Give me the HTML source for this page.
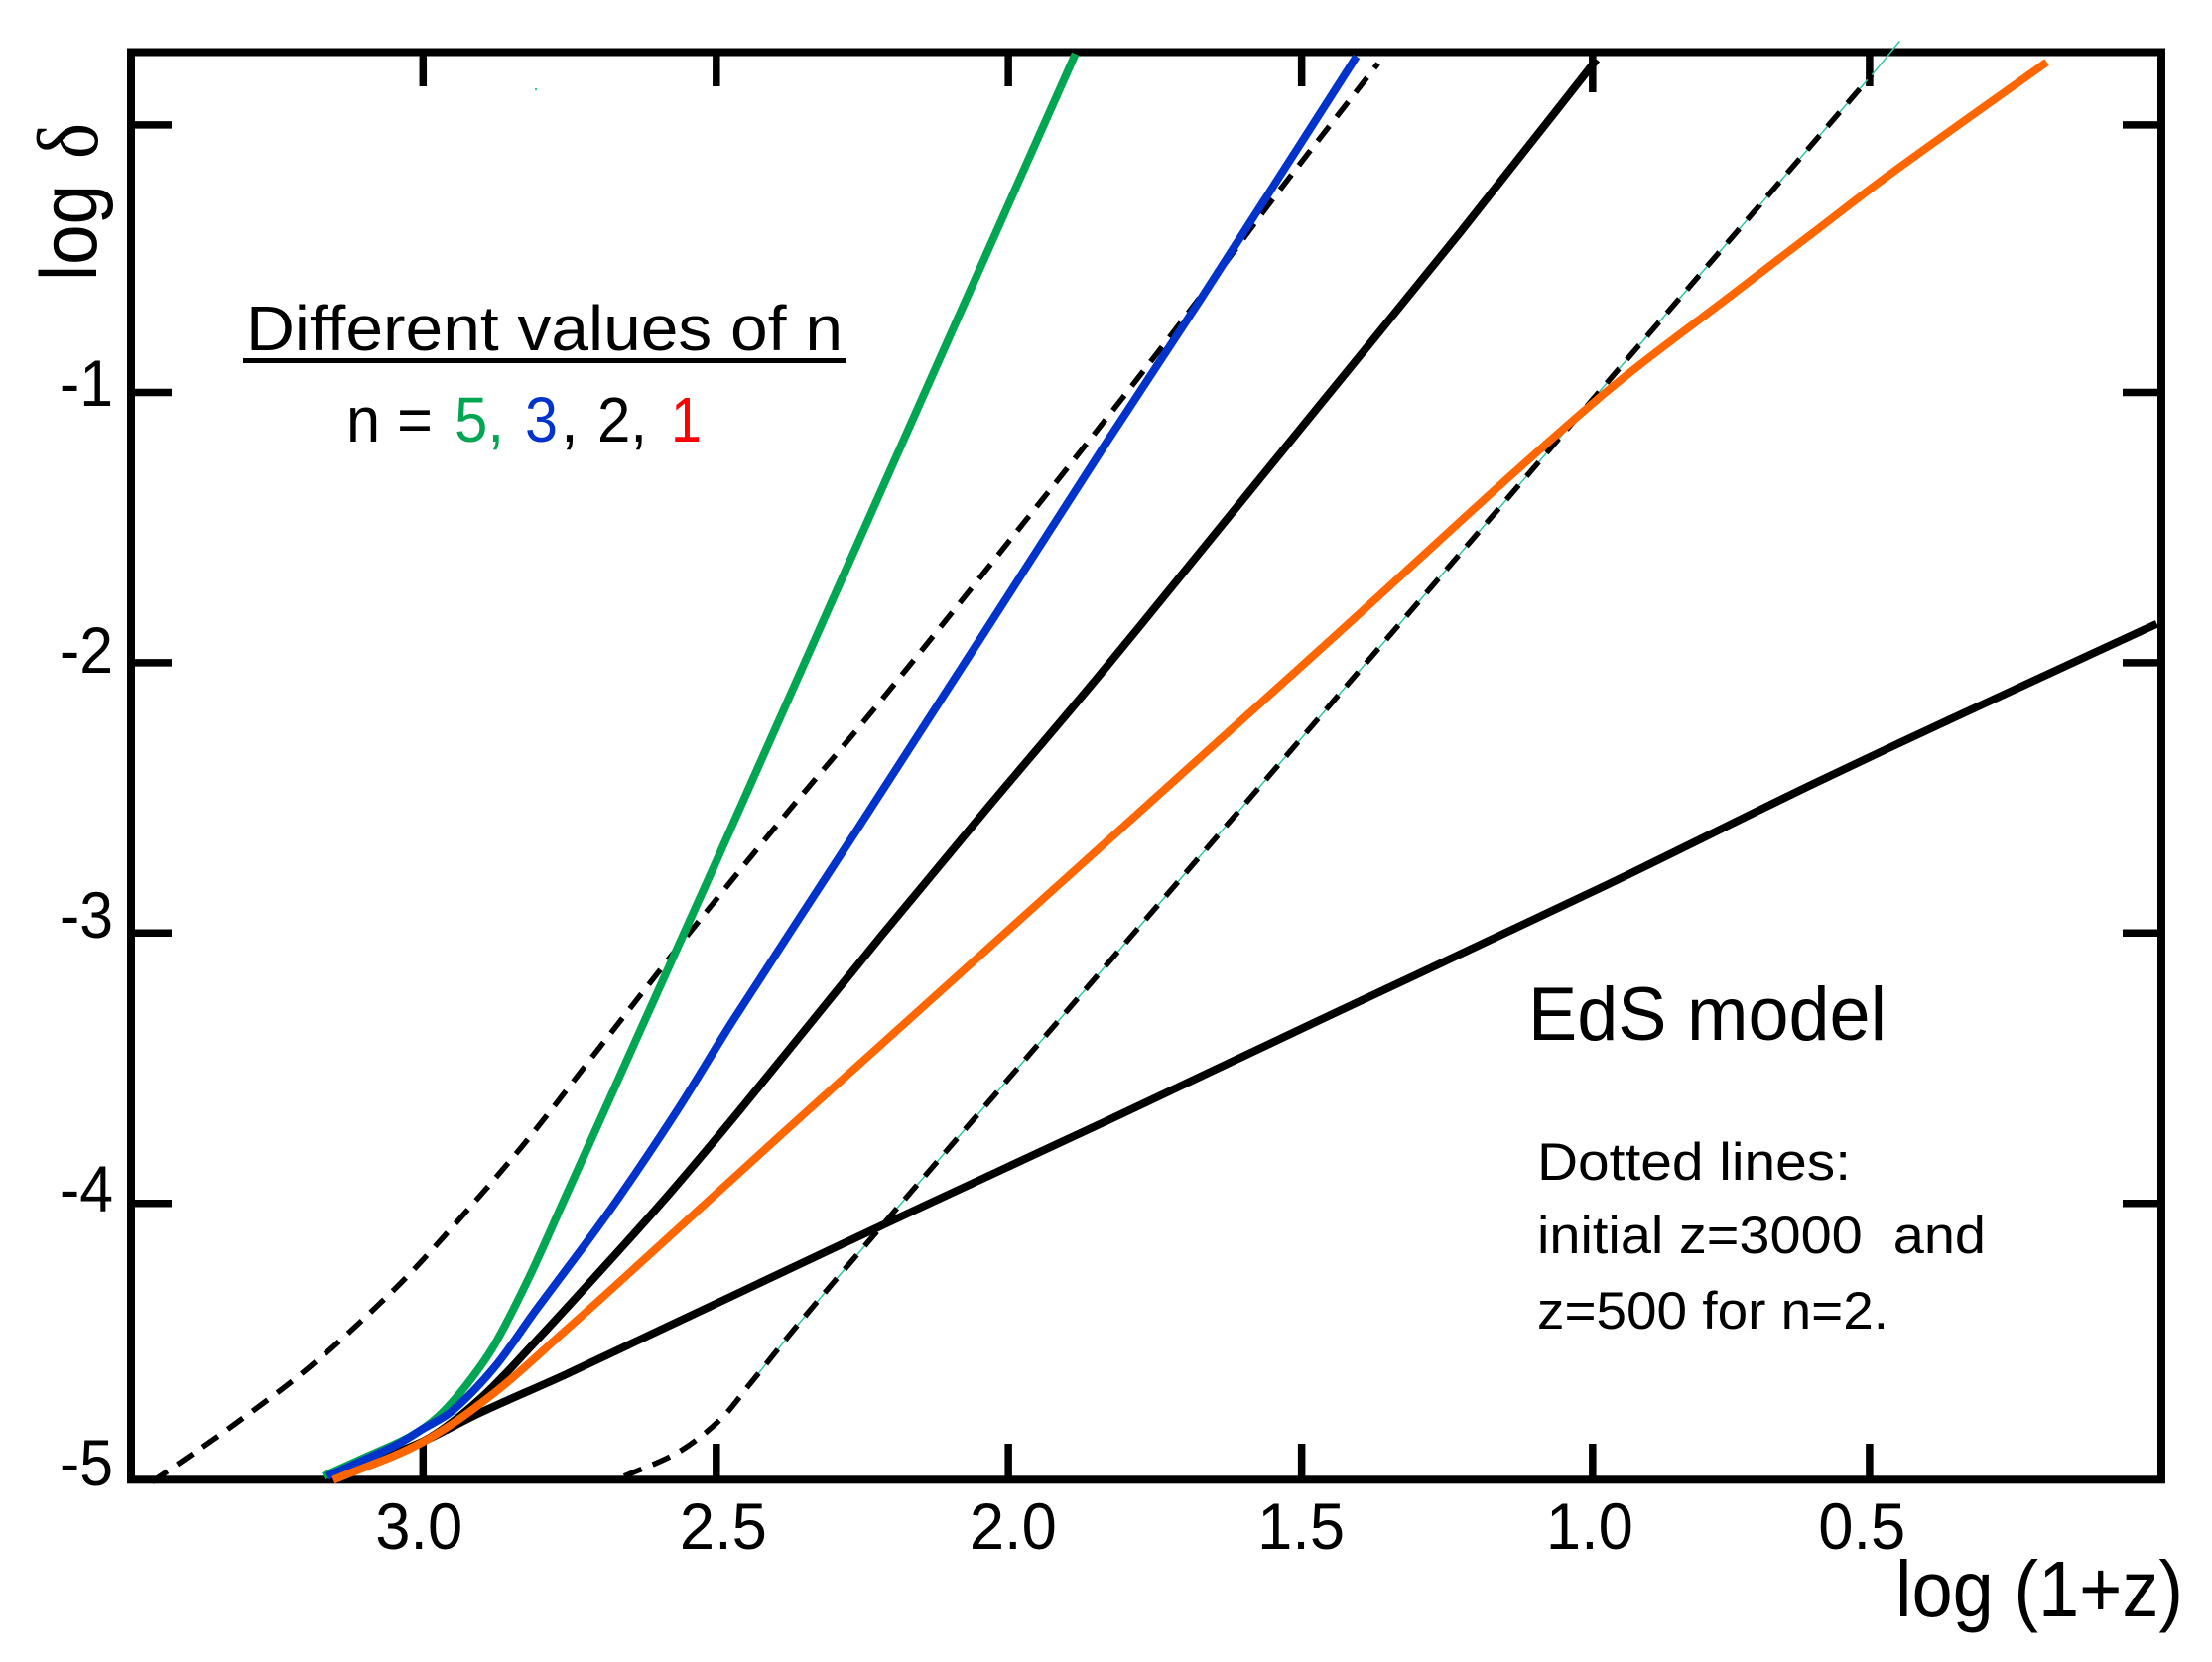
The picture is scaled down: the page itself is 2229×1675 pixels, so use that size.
<!DOCTYPE html>
<html lang="en">
<head>
<meta charset="utf-8">
<title>log delta versus log (1+z), EdS model</title>
<style>
html,body{margin:0;padding:0;background:#fff;}
svg{display:block;}
text{font-family:"Liberation Sans",sans-serif;fill:#000;}
</style>
</head>
<body>
<svg id="chart" xmlns="http://www.w3.org/2000/svg" width="2229" height="1675" viewBox="0 0 2229 1675">
  <rect x="0" y="0" width="2229" height="1675" fill="#fff"/>
  <rect x="132" y="52.5" width="2046" height="1438.8" fill="none" stroke="#000" stroke-width="8"/>
  <g id="ticks"></g>
  <g id="tick-labels"></g>
  <g id="series"></g>
  <rect x="539" y="89" width="2" height="2" fill="#2fc6a8"/>

  <text transform="translate(97,283) rotate(-90)" font-size="81" textLength="97" lengthAdjust="spacingAndGlyphs">log</text>
  <text transform="translate(98,160) rotate(-90)" font-size="88" textLength="36" lengthAdjust="spacingAndGlyphs" style="font-family:'Liberation Serif',serif">δ</text>
  <text x="1910" y="1629" font-size="80" textLength="290" lengthAdjust="spacingAndGlyphs">log (1+z)</text>

  <text x="248" y="353" font-size="64" textLength="601" lengthAdjust="spacingAndGlyphs">Different values of n</text>
  <rect x="245" y="361" width="607" height="5" fill="#000"/>
  <text x="349" y="445" font-size="64" textLength="87" lengthAdjust="spacingAndGlyphs">n =</text>
  <text x="458" y="445" font-size="64" textLength="50" lengthAdjust="spacingAndGlyphs" style="fill:#00a651">5,</text>
  <text x="529" y="445" font-size="64" textLength="33" lengthAdjust="spacingAndGlyphs" style="fill:#0033cc">3</text>
  <text x="565" y="445" font-size="64">,</text>
  <text x="602" y="445" font-size="64" textLength="50" lengthAdjust="spacingAndGlyphs">2,</text>
  <text x="676" y="445" font-size="64" textLength="31" lengthAdjust="spacingAndGlyphs" style="fill:#ff0000">1</text>

  <text x="1540" y="1048" font-size="76" textLength="361" lengthAdjust="spacingAndGlyphs">EdS model</text>
  <text x="1549" y="1189" font-size="53" textLength="316" lengthAdjust="spacingAndGlyphs">Dotted lines:</text>
  <text x="1549" y="1263" font-size="53" textLength="452" lengthAdjust="spacingAndGlyphs" xml:space="preserve">initial z=3000  and</text>
  <text x="1549" y="1339" font-size="53" textLength="354" lengthAdjust="spacingAndGlyphs">z=500 for n=2.</text>
</svg>

<script>
// Axis ticks and labels
const xTickValues = [3.008, 2.505, 2.004, 1.501, 1.002, 0.527];
const xTickLabels = ["3.0", "2.5", "2.0", "1.5", "1.0", "0.5"];
const xTickLabelAt = [3.015, 2.493, 1.996, 1.502, 1.007, 0.540];
const yTickValues = [-0.01, -1, -2, -3, -4];
const yTickLabels = ["-1", "-2", "-3", "-4", "-5"];
const yTickLabelAt = [-0.963, -1.951, -2.931, -3.944, -4.957];

// n = 5 (green)
const n5LogZ = [3.179, 3.104, 3.031, 2.983, 2.935, 2.886, 2.826, 2.765, 2.644, 2.523, 2.281, 1.889];
const n5LogDelta = [-5.010, -4.937, -4.864, -4.791, -4.676, -4.525, -4.274, -3.982, -3.402, -2.822, -1.648, 0.253];

// n = 3 (blue)
const n3LogZ = [3.172, 3.056, 3.007, 2.959, 2.886, 2.814, 2.729, 2.668, 2.571, 2.475, 2.264, 2.039, 1.835, 1.676, 1.407];
const n3LogDelta = [-5.010, -4.896, -4.833, -4.770, -4.608, -4.394, -4.149, -3.966, -3.653, -3.319, -2.619, -1.867, -1.183, -0.661, 0.243];

// n = 2 (black solid)
const n2LogZ = [3.165, 3.007, 2.910, 2.814, 2.705, 2.584, 2.462, 2.220, 2.039, 1.835, 1.472, 1.230, 0.995];
const n2LogDelta = [-5.021, -4.880, -4.723, -4.509, -4.253, -3.961, -3.648, -3.005, -2.535, -2.013, -1.052, -0.410, 0.232];

// n = 1 (orange)
const n1LogZ = [3.162, 3.010, 2.886, 2.765, 2.644, 2.402, 2.160, 1.918, 1.472, 1.000, 0.748, 0.627, 0.494, 0.223];
const n1LogDelta = [-5.024, -4.885, -4.702, -4.473, -4.238, -3.762, -3.292, -2.822, -1.956, -1.037, -0.614, -0.415, -0.196, 0.222];

// Einstein-de Sitter reference (black solid)
const edsLogZ = [3.165, 3.007, 2.910, 2.765, 2.523, 2.220, 1.835, 1.472, 0.988, 0.627, 0.385, 0.034];
const edsLogDelta = [-5.021, -4.880, -4.775, -4.635, -4.389, -4.081, -3.695, -3.324, -2.833, -2.452, -2.206, -1.856];

// Dashed: initial z = 3000
const early3000LogZ = [3.473, 3.334, 3.201, 3.056, 2.959, 2.838, 2.705, 2.559, 2.402, 2.232, 2.039, 1.835, 1.678, 1.554, 1.370];
const early3000LogDelta = [-5.031, -4.822, -4.603, -4.316, -4.091, -3.789, -3.423, -3.021, -2.603, -2.165, -1.648, -1.094, -0.655, -0.295, 0.217];

// Dashed: initial z = 500, n = 2
const late500LogZ = [2.663, 2.571, 2.499, 2.450, 2.378, 2.305, 2.220, 1.797, 1.312, 1.000, 0.523];
const late500LogDelta = [-5.010, -4.922, -4.802, -4.676, -4.483, -4.295, -4.081, -3.021, -1.804, -1.021, 0.175];

// Thin cyan fit underneath the z = 500 dashed line
const fitLogZ = [2.450, 2.378, 2.305, 2.220, 1.797, 1.312, 1.000, 0.523, 0.475];
const fitLogDelta = [-4.676, -4.483, -4.295, -4.081, -3.021, -1.804, -1.021, 0.175, 0.300];

// Axis functions (x is reversed: redshift decreases to the right)
function xAxis(v) { return 431 + (3 - v) * 587.5; }
function yAxis(v) { return 395.5 + (-1 - v) * 272.4; }

const SVG_NS = "http://www.w3.org/2000/svg";
const ticksGroup = document.getElementById("ticks");
const labelsGroup = document.getElementById("tick-labels");
const seriesGroup = document.getElementById("series");

function drawTick(x1, y1, x2, y2) {
  const t = document.createElementNS(SVG_NS, "line");
  t.setAttribute("x1", x1);
  t.setAttribute("y1", y1);
  t.setAttribute("x2", x2);
  t.setAttribute("y2", y2);
  t.setAttribute("stroke", "#000");
  t.setAttribute("stroke-width", "7.5");
  
  
  ticksGroup.appendChild(t);
}

xTickValues.forEach(function (v) {
  const x = xAxis(v);
  drawTick(x, 52, x, v === 1.002 ? 93 : 87);
  drawTick(x, 1455, x, 1490);
});
yTickValues.forEach(function (v) {
  const y = yAxis(v);
  drawTick(132, y, 173, y);
  drawTick(2139, y, 2178, y);
});

function drawLabel(text, x, y, anchor, length) {
  const t = document.createElementNS(SVG_NS, "text");
  t.setAttribute("x", x);
  t.setAttribute("y", y);
  t.setAttribute("font-size", "66");
  t.setAttribute("text-anchor", anchor);
  t.setAttribute("textLength", length);
  t.setAttribute("lengthAdjust", "spacingAndGlyphs");
  
  
  t.textContent = text;
  labelsGroup.appendChild(t);
}

xTickLabels.forEach(function (label, i) {
  drawLabel(label, xAxis(xTickLabelAt[i]), 1561, "middle", 88);
});
yTickLabels.forEach(function (label, i) {
  drawLabel(label, 114, yAxis(yTickLabelAt[i]) + 23.5, "end", 54);
});

// Non-uniform spline: tangents weighted by segment length so unequal spacing does not wobble
function smoothPath(xs, ys) {
  const p = xs.map(function (v, i) { return [xAxis(v), yAxis(ys[i])]; });
  const n = p.length;
  const len = [];
  for (let i = 0; i < n - 1; i++) {
    len.push(Math.hypot(p[i + 1][0] - p[i][0], p[i + 1][1] - p[i][1]));
  }
  const tan = p.map(function (pt, i) {
    const a = p[i === 0 ? 0 : i - 1];
    const b = p[i === n - 1 ? n - 1 : i + 1];
    const dx = b[0] - a[0];
    const dy = b[1] - a[1];
    const h = Math.hypot(dx, dy) || 1;
    return [dx / h, dy / h];
  });
  let d = "M" + p[0][0].toFixed(1) + " " + p[0][1].toFixed(1);
  for (let i = 0; i < n - 1; i++) {
    const k = len[i] / 3;
    d += "C" + (p[i][0] + tan[i][0] * k).toFixed(1) + " " + (p[i][1] + tan[i][1] * k).toFixed(1) + " " +
         (p[i + 1][0] - tan[i + 1][0] * k).toFixed(1) + " " + (p[i + 1][1] - tan[i + 1][1] * k).toFixed(1) + " " +
         p[i + 1][0].toFixed(1) + " " + p[i + 1][1].toFixed(1);
  }
  return d;
}

function appendLine(xs, ys, color, width, dash) {
  const path = document.createElementNS(SVG_NS, "path");
  path.setAttribute("d", smoothPath(xs, ys));
  path.setAttribute("fill", "none");
  path.setAttribute("stroke", color);
  path.setAttribute("stroke-width", width);
  path.setAttribute("stroke-linejoin", "round");
  if (dash) { path.setAttribute("stroke-dasharray", dash); }
  seriesGroup.appendChild(path);
  return path;
}

const fitLine = appendLine(fitLogZ, fitLogDelta, "#2fc6a8", 1.5, null);



const earlyLine = appendLine(early3000LogZ, early3000LogDelta, "#000", 5.5, "19 12");



const lateLine = appendLine(late500LogZ, late500LogDelta, "#000", 5.5, "19 12");



const edsLine = appendLine(edsLogZ, edsLogDelta, "#000", 8, null);



const n2Line = appendLine(n2LogZ, n2LogDelta, "#000", 8, null);



const n5Line = appendLine(n5LogZ, n5LogDelta, "#00a651", 8, null);



const n3Line = appendLine(n3LogZ, n3LogDelta, "#0033cc", 8, null);



const n1Line = appendLine(n1LogZ, n1LogDelta, "#ff6600", 8, null);


</script>
</body>
</html>
